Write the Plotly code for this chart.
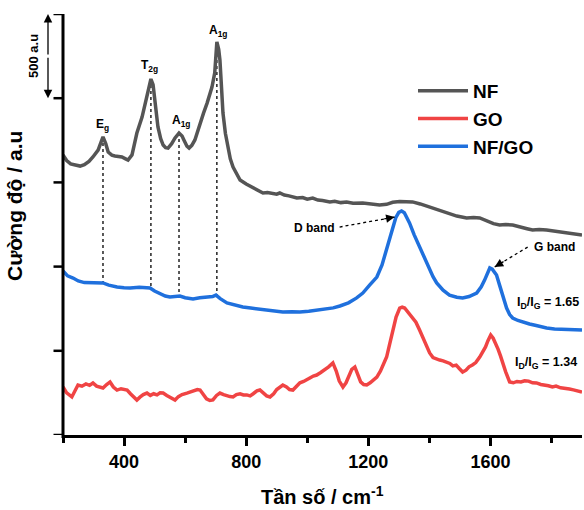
import numpy as np
import plotly.graph_objects as go

# ---------------- data ----------------
nf_x = [200, 212, 225, 240, 256, 270, 285, 298, 315, 331, 340, 348, 360, 370, 382, 393, 405, 413, 426, 442,
        459, 475, 482, 488, 495, 501, 511, 520, 528, 536, 544, 556, 567, 580, 590, 596, 606, 613, 622, 632,
        649, 660, 672, 688, 697, 704, 710, 714, 719, 724, 732, 740, 748, 757, 768, 780, 800, 822, 838, 855,
        870, 887, 900, 910, 925, 940, 966, 985, 1000, 1018, 1035, 1050, 1074, 1090, 1110, 1129, 1150, 1182,
        1205, 1237, 1260, 1280, 1303, 1325, 1345, 1370, 1401, 1430, 1456, 1490, 1522, 1545, 1565, 1590,
        1610, 1630, 1650, 1673, 1700, 1720, 1738, 1760, 1784, 1810, 1830, 1849, 1870, 1885, 1900]
nf_y = [1663, 1630, 1610, 1603, 1597, 1605, 1625, 1651, 1692, 1770, 1730, 1680, 1662, 1657, 1655, 1651, 1640,
        1633, 1663, 1793, 1888, 2007, 2070, 2114, 2080, 1989, 1829, 1760, 1722, 1706, 1704, 1730, 1764, 1793,
        1775, 1752, 1715, 1704, 1720, 1752, 1853, 1910, 1971, 2066, 2150, 2334, 2290, 2227, 2070, 1912, 1790,
        1710, 1640, 1591, 1550, 1514, 1490, 1467, 1450, 1437, 1440, 1437, 1430, 1437, 1425, 1420, 1407, 1410,
        1400, 1407, 1395, 1392, 1384, 1388, 1380, 1384, 1376, 1378, 1372, 1366, 1370, 1382, 1387, 1386, 1384,
        1372, 1354, 1335, 1318, 1300, 1289, 1292, 1289, 1270, 1255, 1247, 1250, 1247, 1232, 1225, 1217, 1220,
        1217, 1210, 1205, 1199, 1195, 1192, 1188]

go_x = [200, 212, 229, 240, 249, 262, 275, 287, 298, 310, 320, 331, 343, 354, 365, 377, 390, 400, 410, 421,
        432, 442, 452, 463, 475, 486, 497, 508, 518, 528, 540, 553, 567, 578, 590, 606, 618, 630, 640, 649,
        660, 670, 681, 691, 703, 714, 726, 737, 747, 757, 768, 780, 791, 802, 813, 823, 835, 845, 856, 867,
        878, 890, 900, 910, 920, 932, 942, 953, 965, 976, 988, 999, 1010, 1020, 1031, 1043, 1057, 1070, 1084,
        1095, 1105, 1117, 1127, 1136, 1146, 1156, 1166, 1175, 1185, 1195, 1206, 1217, 1228, 1240, 1250, 1260,
        1270, 1280, 1291, 1303, 1311, 1319, 1330, 1345, 1356, 1368, 1380, 1390, 1401, 1412, 1423, 1434, 1445,
        1456, 1467, 1477, 1488, 1498, 1509, 1520, 1530, 1541, 1552, 1565, 1575, 1584, 1592, 1601, 1609, 1617,
        1625, 1633, 1641, 1650, 1663, 1675, 1687, 1700, 1712, 1725, 1738, 1751, 1765, 1778, 1790, 1803, 1815,
        1830, 1845, 1859, 1872, 1885, 1900]
go_y = [285, 250, 226, 270, 297, 290, 303, 295, 309, 290, 285, 279, 300, 315, 285, 267, 275, 270, 267, 245,
        225, 208, 225, 240, 249, 235, 245, 238, 250, 249, 235, 220, 208, 228, 240, 249, 255, 262, 270, 267,
        240, 215, 205, 208, 235, 249, 240, 232, 228, 226, 240, 245, 238, 238, 232, 245, 262, 267, 250, 232,
        226, 245, 270, 285, 297, 285, 270, 267, 290, 310, 318, 327, 340, 350, 356, 370, 386, 405, 428,
        380, 320, 285, 310, 350, 390, 404, 360, 315, 300, 297, 310, 330, 344, 380, 420, 463,
        540, 623, 700, 754, 760, 754, 730, 701, 670, 623, 570, 525, 487, 460, 450, 445, 440,
        433, 425, 410, 415, 395, 374, 385, 405, 416, 430, 463, 495, 523, 560, 594, 575, 546,
        510, 470, 420, 375, 315, 310, 318, 315, 322, 320, 310, 309, 300, 298, 292, 285, 290,
        280, 278, 273, 268, 260, 255]

nfgo_x = [200, 215, 233, 250, 270, 289, 310, 331, 350, 377, 400, 420, 450, 470, 485, 500, 518, 535, 550, 567,
          583, 600, 626, 648, 671, 690, 701, 715, 737, 760, 789, 815, 845, 870, 895, 920, 950, 976, 1005, 1031,
          1060, 1085, 1107, 1135, 1162, 1182, 1205, 1228, 1245, 1260, 1270, 1280, 1290, 1300, 1309, 1318, 1327,
          1335, 1350, 1368, 1385, 1401, 1412, 1424, 1445, 1466, 1490, 1509, 1530, 1555, 1570, 1581, 1592, 1598,
          1606, 1620, 1630, 1637, 1645, 1653, 1663, 1673, 1690, 1710, 1728, 1750, 1770, 1784, 1810, 1843, 1870,
          1900]
nfgo_y = [974, 945, 932, 915, 905, 903, 905, 903, 890, 879, 875, 873, 878, 874, 873, 855, 837, 825, 819, 822,
          825, 815, 808, 815, 819, 822, 831, 810, 784, 772, 760, 754, 748, 740, 733, 730, 732, 730, 735, 742,
          748, 755, 766, 785, 814, 843, 891, 938, 1010, 1099, 1170, 1235, 1290, 1322, 1330, 1320, 1290,
          1259, 1190, 1116, 1045, 980, 940, 903, 860, 831, 818, 814, 822, 843, 880, 920, 975, 992,
          985, 950, 890, 843, 795, 754, 715, 695, 680, 668, 659, 650, 642, 635, 630, 629, 625,
          623]

peak_x = [331, 488, 580, 704]
peak_labels = ["E<sub>g</sub>", "T<sub>2g</sub>", "A<sub>1g</sub>", "A<sub>1g</sub>"]
peak_label_x = [331, 482, 587, 708]
peak_label_y = [1841, 2191, 1865, 2400]

ratio_labels = ["I<sub>D</sub>/I<sub>G</sub> = 1.65", "I<sub>D</sub>/I<sub>G</sub> = 1.34"]
ratio_x = [1679, 1673]
ratio_y = [784, 428]

x_ticks = [400, 800, 1200, 1600]
y_ticks = [0, 500, 1000, 1500, 2000, 2500]

# ---------------- figure ----------------
FONT = "Liberation Sans, Arial, Helvetica, sans-serif"
C_NF = "#555555"
C_GO = "#f04444"
C_NFGO = "#1f70dd"
W, H = 519.0, 421.0

fig = go.Figure()

# dotted lines from NF peaks down to NF/GO curve
dx, dy = [], []
for p in peak_x:
    top = float(np.interp(p, nf_x, nf_y))
    bot = float(np.interp(p, nfgo_x, nfgo_y))
    dx += [p, p, None]
    dy += [top, bot, None]
fig.add_trace(go.Scatter(x=dx, y=dy, mode="lines", line=dict(color="black", width=1.3, dash="dot"),
                         showlegend=False, hoverinfo="skip"))

fig.add_trace(go.Scatter(x=nf_x, y=nf_y, mode="lines", name="NF", line=dict(color=C_NF, width=3.5)))
fig.add_trace(go.Scatter(x=go_x, y=go_y, mode="lines", name="GO", line=dict(color=C_GO, width=3.5)))
fig.add_trace(go.Scatter(x=nfgo_x, y=nfgo_y, mode="lines", name="NF/GO", line=dict(color=C_NFGO, width=3.5)))

ann = []
for lx, ly, t in zip(peak_label_x, peak_label_y, peak_labels):
    ann.append(dict(x=lx, y=ly, text="<b>" + t + "</b>", showarrow=False, xanchor="center", yanchor="middle",
                    font=dict(size=12, color="black", family=FONT)))
for lx, ly, t in zip(ratio_x, ratio_y, ratio_labels):
    ann.append(dict(x=lx, y=ly, text="<b>" + t + "</b>", showarrow=False, xanchor="left", yanchor="middle",
                    font=dict(size=12.5, color="black", family=FONT)))

# D band / G band labels with dotted arrows
bands = [("D band", 1024, 1229, (1106, 1235), (1286, 1294), (-11.8, 2.1)),
         ("G band", 1809, 1116, (1722, 1116), (1614, 998), (10.3, -6.2))]
shapes = []
for txt, tx, ty, tail, head, off in bands:
    ann.append(dict(x=tx, y=ty, text="<b>" + txt + "</b>", showarrow=False, xanchor="center", yanchor="middle",
                    font=dict(size=12, color="black", family=FONT)))
    shapes.append(dict(type="line", xref="x", yref="y", x0=tail[0], y0=tail[1], x1=head[0], y1=head[1],
                       line=dict(color="black", width=1.3, dash="dot")))
    ann.append(dict(x=head[0], y=head[1], ax=off[0], ay=off[1], text="", showarrow=True,
                    arrowhead=2, arrowsize=1.3, arrowwidth=1.3, arrowcolor="black"))

# left (y) axis line and ticks
shapes.append(dict(type="line", xref="paper", yref="paper", x0=0, x1=0, y0=-3 / H, y1=1,
                   line=dict(color="black", width=3)))
for yt in y_ticks:
    shapes.append(dict(type="line", xref="paper", yref="y", x0=-9.5 / W, x1=0, y0=yt, y1=yt,
                       line=dict(color="black", width=2.5)))

# 500 a.u scale double arrow (outside plot, left)
ax_x = (48 - 63) / W
ann.append(dict(xref="paper", yref="y", x=ax_x, y=2500, ax=0, ay=42, text="", showarrow=True,
                arrowhead=2, arrowsize=1.3, arrowwidth=1.3, arrowcolor="black"))
ann.append(dict(xref="paper", yref="y", x=ax_x, y=2000, ax=0, ay=-42, text="", showarrow=True,
                arrowhead=2, arrowsize=1.3, arrowwidth=1.3, arrowcolor="black"))
ann.append(dict(xref="paper", yref="paper", x=(33 - 63) / W, y=(435 - 56) / H, text="<b>500 a.u</b>",
                xanchor="center", yanchor="middle",
                textangle=-90, showarrow=False, font=dict(size=13, color="black", family=FONT)))

# axis titles
ann.append(dict(xref="paper", yref="paper", x=(15 - 63) / W, y=(435 - 206) / H,
                xanchor="center", yanchor="middle",
                text="<b>Cường độ / a.u</b>", textangle=-90, showarrow=False,
                font=dict(size=21, color="black", family=FONT)))
ann.append(dict(xref="paper", yref="paper", x=(322 - 63) / W, y=(435 - 495) / H,
                xanchor="center", yanchor="middle",
                text="<b>Tần số / cm<sup>-1</sup></b>", showarrow=False,
                font=dict(size=20, color="black", family=FONT)))

fig.update_layout(
    width=584, height=510,
    margin=dict(l=63, r=2, t=14, b=75),
    paper_bgcolor="white", plot_bgcolor="white",
    font=dict(family=FONT, color="black"),
    showlegend=True,
    legend=dict(x=(413 - 63) / W, y=(435 - 72) / H, xanchor="left", yanchor="top",
                bgcolor="rgba(0,0,0,0)", borderwidth=0, itemwidth=50,
                font=dict(size=19, family=FONT, color="black", weight="bold"),
                tracegroupgap=0),
    annotations=ann,
    shapes=shapes,
)
fig.update_xaxes(range=[200, 1900], showline=True, linewidth=3, linecolor="black", mirror=False,
                 automargin=False,
                 showgrid=False, zeroline=False, ticks="outside", ticklen=8, tickwidth=2.5,
                 tickcolor="black", tickvals=x_ticks, ticktext=[str(v) for v in x_ticks],
                 tickfont=dict(size=18, family=FONT, color="black", weight="bold"),
                 minor=dict(dtick=200, tick0=0, ticks="outside", ticklen=5, tickwidth=2.5, tickcolor="black",
                            showgrid=False))
fig.update_yaxes(range=[0, 2500], showline=False, automargin=False,
                 showgrid=False, zeroline=False, ticks="", showticklabels=False)

fig.write_html("out.html")
